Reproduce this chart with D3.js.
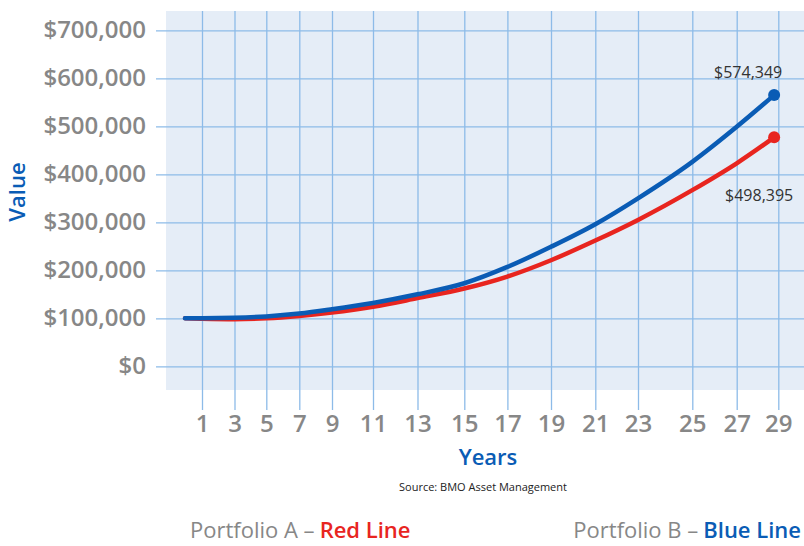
<!DOCTYPE html>
<html>
<head>
<meta charset="utf-8">
<script src="https://cdn.jsdelivr.net/npm/d3@7"></script>
<style>
  html, body { margin: 0; padding: 0; background: #fff; }
  svg { display: block; font-family: "Open Sans", "Noto Sans", sans-serif; }
</style>
</head>
<body>
<div id="chart"></div>
<script>
// Data (values in dollars)
const tickYears = [1, 3, 5, 7, 9, 11, 13, 15, 17, 19, 21, 23, 25, 27, 29];
const valueTicks = [0, 100000, 200000, 300000, 400000, 500000, 600000, 700000];
const years = [0, 1, 3, 5, 7, 9, 11, 13, 15, 17, 19, 21, 23, 25, 27, 28.8];
const portfolioB = [100000, 100000, 101000, 104000, 110000, 119000, 132000, 150000, 173000, 207000, 249000, 296000, 350000, 426000, 499000, 565000];
const portfolioA = [100000, 99000, 98000, 100000, 105000, 112000, 124000, 142000, 162000, 187000, 221000, 262000, 305000, 367000, 423000, 477000];
const endLabels = ["$574,349", "$498,395"];

const width = 804, height = 546;
const plot = { left: 166, right: 804, top: 11, bottom: 390 };
// the year columns in the original are not evenly spaced
const xKnots = [0].concat(tickYears);
const xStops = [185, 202, 234.5, 266.3, 299.3, 332, 373, 417.5, 464.3, 507.4, 551, 595.3, 638, 692.3, 736.7, 778.3];

const blue = "#0a5cb5", red = "#e8251f", gray = "#878787", grid = "#8dbbe8";

const svg = d3.select("#chart").append("svg")
    .attr("width", width)
    .attr("height", height);

const x = d3.scaleLinear().domain(xKnots).range(xStops);
const y = d3.scaleLinear().domain([0, 700000]).range([366.3, 30.3]);

// plot background
svg.append("rect")
    .attr("x", plot.left)
    .attr("y", plot.top)
    .attr("width", plot.right - plot.left)
    .attr("height", plot.bottom - plot.top)
    .attr("fill", "#e5edf7");

// vertical grid + year labels
const xAxis = svg.append("g")
    .attr("transform", `translate(0,410)`)
    .call(d3.axisBottom(x).tickValues(tickYears).tickSize(-(410 - plot.top)).tickPadding(5).tickFormat(d3.format("d")));
xAxis.select(".domain").remove();
xAxis.selectAll("line").attr("stroke", grid).attr("stroke-width", 1.3);
xAxis.selectAll("text")
    .attr("fill", gray)
    .style("font-size", "24px")
    .style("font-weight", 600)
    .style("font-family", "'Open Sans', sans-serif");

// horizontal grid + value labels
const yAxis = svg.append("g")
    .attr("transform", `translate(156,0)`)
    .call(d3.axisLeft(y).tickValues(valueTicks).tickSize(-(plot.right - 156)).tickPadding(10)
        .tickFormat(d => "$" + d3.format(",")(d)));
yAxis.select(".domain").remove();
yAxis.selectAll("line").attr("stroke", grid).attr("stroke-width", 1.3);
yAxis.selectAll("text")
    .attr("fill", gray)
    .style("font-size", "24px")
    .style("font-weight", 600)
    .style("font-family", "'Open Sans', sans-serif");

// lines
const line = d3.line()
    .x(d => x(d[0]))
    .y(d => y(d[1]))
    .curve(d3.curveMonotoneX);

const series = [
    { values: portfolioA, color: red },
    { values: portfolioB, color: blue }
];

series.forEach(s => {
    const pts = years.map((yr, i) => [yr, s.values[i]]);
    svg.append("path")
        .datum(pts)
        .attr("d", line)
        .attr("fill", "none")
        .attr("stroke", s.color)
        .attr("stroke-width", 4.5)
        .attr("stroke-linecap", "round");
    const last = pts[pts.length - 1];
    svg.append("circle")
        .attr("cx", x(last[0]))
        .attr("cy", y(last[1]))
        .attr("r", 6)
        .attr("fill", s.color);
});

// end value labels
const lastYear = years[years.length - 1];
svg.append("text")
    .attr("x", x(lastYear) - 26)
    .attr("y", y(portfolioB[portfolioB.length - 1]) - 17)
    .attr("text-anchor", "middle")
    .attr("fill", "#333")
    .style("font-size", "16px")
    .style("font-weight", 500)
    .text(endLabels[0]);
svg.append("text")
    .attr("x", x(lastYear) - 15)
    .attr("y", y(portfolioA[portfolioA.length - 1]) + 64)
    .attr("text-anchor", "middle")
    .attr("fill", "#333")
    .style("font-size", "16px")
    .style("font-weight", 500)
    .text(endLabels[1]);

// axis titles
svg.append("text")
    .attr("transform", "translate(25,192) rotate(-90)")
    .attr("text-anchor", "middle")
    .attr("fill", blue)
    .style("font-size", "22px")
    .style("font-weight", 600)
    .text("Value");

svg.append("text")
    .attr("x", 488)
    .attr("y", 465)
    .attr("text-anchor", "middle")
    .attr("fill", blue)
    .style("font-size", "22px")
    .style("font-weight", 600)
    .text("Years");

svg.append("text")
    .attr("x", 483)
    .attr("y", 491)
    .attr("text-anchor", "middle")
    .attr("fill", "#222")
    .style("font-size", "11px")
    .style("font-weight", 500)
    .text("Source: BMO Asset Management");

// legend: grey name + coloured line name, laid out side by side
const legend = [
    { x: 190, anchor: "start", name: "Portfolio A – ", label: "Red Line", color: red },
    { x: 801, anchor: "end", name: "Portfolio B – ", label: "Blue Line", color: blue }
];
legend.forEach(l => {
    const g = svg.append("g");
    const a = g.append("text")
        .attr("y", 538)
        .attr("fill", gray)
        .style("font-size", "22px")
        .text(l.name);
    const b = g.append("text")
        .attr("y", 538)
        .attr("fill", l.color)
        .style("font-size", "22px")
        .style("font-weight", 600)
        .text(l.label);
    const wa = a.node().getComputedTextLength() + 5;
    const wb = b.node().getComputedTextLength();
    const start = l.anchor === "start" ? l.x : l.x - wa - wb;
    a.attr("x", start);
    b.attr("x", start + wa);
});
</script>
</body>
</html>
